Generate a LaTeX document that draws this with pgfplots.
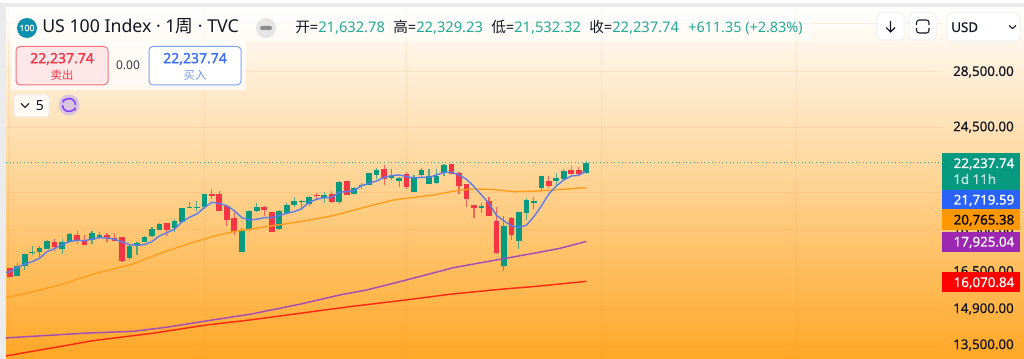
\documentclass[border=0pt]{standalone}
\usepackage{fontspec}
\usepackage{pgfplots}
\usepackage{pgfplotstable}
\usetikzlibrary{arrows.meta}
\pgfplotsset{compat=1.18}
\setmainfont{Noto Sans}
\newfontfamily\cjk{Noto Sans CJK SC}
\newfontfamily\fb[FakeBold=1.4]{Noto Sans}
\newfontfamily\fm[FakeBold=0.5]{Noto Sans}
\definecolor{upc}{HTML}{089981}
\definecolor{dnc}{HTML}{F23645}
\definecolor{bl}{HTML}{5A7DF0}
\definecolor{og}{HTML}{FF9E1B}
\definecolor{pu}{HTML}{A24DB8}
\definecolor{rd}{HTML}{FF2A10}
\definecolor{bot}{RGB}{255,167,38}
\definecolor{txt}{HTML}{131722}
\definecolor{logo}{HTML}{0F8FAE}
\definecolor{hdr}{HTML}{22AB94}
\definecolor{tagb}{HTML}{2962FF}
\definecolor{tago}{HTML}{FF9800}
\definecolor{tagp}{HTML}{9C27B0}
\definecolor{btnb}{HTML}{7DA2F5}
\definecolor{txtb}{HTML}{3B6EF5}
\definecolor{txtbl}{HTML}{6F96F5}
\definecolor{lil}{HTML}{DCC4DE}
\definecolor{vio}{HTML}{7A3DFF}
\pgfplotstableread{
x o h l c
1 16325 16885 16310 16779
2 16779 17307 16580 17307
3 17370 17706 17275 17417
4 17401 17722 17165 17610
5 17577 17999 17561 17950
7 17561 18065 17338 17901
8 17901 18330 17885 18297
11 18015 18464 17819 18330
12 18130 18380 18097 18247
16 17118 17755 17041 17690
17 17738 17901 17275 17868
18 17917 18197 17917 18147
19 18197 18651 18163 18532
20 18515 18873 18497 18804
22 18617 19080 18397 18959
23 18907 19627 18890 19627
24 19645 19971 19627 19681
25 19663 20008 19467 19699
26 19681 20394 19573 20394
31 17417 18600 17401 18497
32 18497 19520 18430 19503
33 19467 19915 19432 19717
36 18549 19538 18497 19503
37 19361 19915 19326 19789
38 19807 20264 19717 20008
39 19953 20063 19538 20008
40 19879 20301 19771 20264
42 20191 20506 19934 20357
44 19971 21132 19879 21093
46 20413 20788 20394 20750
47 20902 21016 20674 20940
48 20921 21600 20902 21600
49 21501 21898 21267 21797
51 21325 21838 21228 21442
52 21151 21364 20788 21325
54 20543 21482 20524 21403
55 21501 21918 21364 21797
56 20978 21858 20959 21442
57 21016 21878 20997 21462
58 21620 22138 21462 22098
63 19627 19915 19396 19753
66 16748 19219 16550 18702
68 17966 19432 17577 19432
69 19396 20209 19011 20099
70 19897 20227 19591 20044
71 20750 21423 20599 21423
73 21151 21600 20921 21325
74 21248 21838 21209 21738
77 21632.78 22329.23 21532.32 22237.74
}\upcandles
\pgfplotstableread{
x o h l c
0 16672 16672 16236 16265
6 17917 18032 17465 17658
9 18247 18447 17819 17950
10 17934 18247 17755 17771
13 18247 18347 17901 18097
14 18097 18330 17950 17966
15 18147 18147 16963 17010
21 18838 18838 18197 18497
27 20394 20693 20136 20283
28 20394 20562 19467 19485
29 19771 19771 18719 18994
30 19098 19467 18263 18397
34 19681 19735 19237 19520
35 19432 19432 18380 18397
41 20376 20487 20081 20320
43 20431 20562 19897 19971
45 21151 21151 20339 20357
50 21878 22118 20921 21248
53 21561 21659 20712 20807
59 22158 22158 21561 21561
60 21620 21699 20413 20864
61 20978 20978 19699 20136
62 19789 19807 19132 19663
64 20026 20264 19219 19237
65 18976 19717 17322 17354
67 19098 19184 17999 18230
72 21151 21462 20750 20883
75 21797 22038 21541 21561
76 21797 21998 21521 21561
}\downcandles
\pgfplotstableread{
x y
-0.5 16475
0 16490
1 16703
2 16839
3 16963
4 17118
5 17433
6 17577
7 17771
8 17917
9 17982
10 17966
11 18032
12 18114
13 18097
14 18032
15 17901
16 17771
17 17738
18 17771
19 17917
20 18197
21 18363
22 18532
23 18907
24 19149
25 19326
26 19663
27 19953
28 19897
29 19771
30 19503
31 19132
32 19011
33 19046
34 19132
35 19132
36 19237
37 19361
38 19449
39 19609
40 19953
41 20118
42 20209
43 20209
44 20506
45 20543
46 20599
47 20883
48 21016
49 21151
50 21364
51 21462
52 21501
53 21403
54 21325
55 21364
56 21364
57 21501
58 21659
59 21659
60 21501
61 21248
62 20826
63 20357
64 19897
65 19255
66 18976
67 18702
68 18634
69 18736
70 19184
71 19753
72 20413
73 20864
74 21209
75 21442
76 21482
77 21719.59
}\blueline
\pgfplotstableread{
x y
-0.5 15370
3.16 15625
7.03 15943
11.18 16400
16.5 16855
20.1 17354
24.1 17835
27.2 18180
29.9 18413
34.3 18668
38.8 18924
43.2 19237
47.7 19717
51.3 20081
56.6 20357
59.7 20599
61.9 20693
64.2 20674
67.3 20543
70 20562
72.6 20636
77 20765.38
}\orangeline
\pgfplotstableread{
x y
-0.5 13766
3.16 13829
9.84 13943
16.5 14018
20.97 14174
26.3 14423
32.1 14687
38.8 15100
44.1 15484
47.7 15697
53 16133
59.3 16687
65.5 17072
70 17354
73.5 17593
77 17925.04
}\purpleline
\pgfplotstableread{
x y
-0.5 13104
5.4 13382
11.2 13666
19.1 13943
26.3 14264
32.1 14460
38.8 14727
45.5 15000
52.1 15242
58.8 15512
65.5 15726
70 15842
77 16070.84
}\redline
\newcommand{\fs}[1]{\fontsize{#1}{#1}\selectfont}
\begin{document}
\begin{tikzpicture}
\useasboundingbox (0,0) rectangle (768pt,269.25pt);
\begin{scope}[x=0.75pt,y=-0.75pt,shift={(0,-359)}]
\fill[white] (0,0) rectangle (1024,359);
\fill[black!8] (0,3) rectangle (1024,8);
\fill[black!8] (0,3) rectangle (6,359);
\shade[top color=white,bottom color=bot] (6,8) rectangle (1024,359);
\end{scope}
\begin{axis}[
  at={(4.5pt,0pt)},anchor=south west,scale only axis,
  width=702pt,height=263.25pt,
  ymode=log,
  xmin=-0.49,xmax=124.5,ymin=12996,ymax=33954,
  xtick={-0.2,26,53,79.06,105.05},xticklabels={},
  ytick={13500,14900,16500,18500,20500,24500,28500,32500},
  yticklabels={{13,500.00},{14,900.00},{16,500.00},{18,500.00},{},{24,500.00},{28,500.00},{}},
  ticklabel pos=right,
  major tick length=0pt,
  axis line style={draw=none},
  grid=major,
  grid style={color=brown!70!orange,opacity=0.11,line width=0.75pt},
  yticklabel style={anchor=east,xshift=54pt,font=\fs{10}\fm,text=txt,inner sep=0pt},
  clip=true,
]
\addplot[draw=none,no marks,error bars/.cd,y dir=plus,y explicit,error mark=none,
  error bar style={draw=upc,line width=0.85pt,opacity=0.7}]
  table[x=x,y=l,y error expr=\thisrow{h}-\thisrow{l}] {\upcandles};
\addplot[draw=none,no marks,error bars/.cd,y dir=plus,y explicit,error mark=none,
  error bar style={draw=dnc,line width=0.85pt,opacity=0.7}]
  table[x=x,y=l,y error expr=\thisrow{h}-\thisrow{l}] {\downcandles};
\addplot[draw=none,no marks,error bars/.cd,y dir=plus,y explicit,error mark=none,
  error bar style={draw=upc,line width=4.3pt}]
  table[x=x,y=o,y error expr=\thisrow{c}-\thisrow{o}] {\upcandles};
\addplot[draw=none,no marks,error bars/.cd,y dir=plus,y explicit,error mark=none,
  error bar style={draw=dnc,line width=4.3pt}]
  table[x=x,y=c,y error expr=\thisrow{o}-\thisrow{c}] {\downcandles};
\addplot[upc,no marks,line width=0.7pt,dotted,opacity=0.8] coordinates {(-0.49,22237.74)(124.5,22237.74)};
\addplot[rd,no marks,line width=1.1pt] table[x=x,y=y] {\redline};
\addplot[pu,no marks,line width=1.1pt] table[x=x,y=y] {\purpleline};
\addplot[og,no marks,line width=1.05pt] table[x=x,y=y] {\orangeline};
\addplot[bl,no marks,line width=1.05pt] table[x=x,y=y] {\blueline};
\end{axis}
\begin{scope}[x=0.75pt,y=-0.75pt,shift={(0,-359)},every node/.style={inner sep=0pt,font=\fs{10}}]
% header washes
\fill[white,opacity=0.55] (8,8) rectangle (812,41);
\fill[white,opacity=0.75] (11,41) rectangle (246,90);
% title
\fill[logo] (27,28) circle (10);
\node[text=white,font=\fs{6.5}\fb] at (27,28) {100};
\node[anchor=base west,text=txt,font=\fs{13.3}] at (42,33) {US 100 Index · 1{\cjk 周} · TVC};
\fill[black!10] (266,28) circle (10);
\fill[black!45,rounded corners=1.5] (260,26) rectangle (272,30);
% OHLC
\node[anchor=base west,text=txt,font=\fs{11}] at (295,33) {{\cjk 开}=\textcolor{hdr}{21,632.78}};
\node[anchor=base west,text=txt,font=\fs{11}] at (393,33) {{\cjk 高}=\textcolor{hdr}{22,329.23}};
\node[anchor=base west,text=txt,font=\fs{11}] at (491,33) {{\cjk 低}=\textcolor{hdr}{21,532.32}};
\node[anchor=base west,text=txt,font=\fs{11}] at (589,33) {{\cjk 收}=\textcolor{hdr}{22,237.74}};
\node[anchor=base west,text=hdr,font=\fs{10.8}] at (688,33) {+611.35 (+2.83\%)};
% buy / sell
\draw[fill=dnc!12,draw=dnc!70,line width=0.75pt,rounded corners=3] (16,46.5) rectangle (108,85);
\node[text=dnc,font=\fs{10.5}\fb] at (62,59) {22,237.74};
\node[text=dnc,font=\fs{8.5}\cjk] at (62,75) {卖出};
\node[text=txt!85,font=\fs{9}] at (128,65) {0.00};
\draw[fill=white,draw=btnb,line width=0.75pt,rounded corners=3] (149,46.5) rectangle (241,85);
\node[text=txtb,font=\fs{10.5}\fb] at (195,59) {22,237.74};
\node[text=txtbl,font=\fs{8.5}\cjk] at (195,75) {买入};
% count box
\draw[fill=white,fill opacity=0.85,draw=black!8,line width=0.75pt,rounded corners=2] (14,95) rectangle (49,117);
\draw[txt,line width=0.8pt] (21,103.5)--(25,107.5)--(29,103.5);
\node[text=txt,font=\fs{10.5}] at (40,106) {5};
\fill[lil] (69,105) circle (10.5);
\draw[vio,line width=1.1pt,-{Stealth[length=3pt]}] (62.5,105) arc[start angle=180,end angle=15,radius=6.5];
\draw[vio,line width=1.1pt,-{Stealth[length=3pt]}] (75.5,105) arc[start angle=0,end angle=-165,radius=6.5];
% top-right buttons
\draw[fill=white,draw=black!6,line width=0.75pt,rounded corners=3] (877,13) rectangle (904,40);
\draw[txt,line width=0.8pt] (890.5,21)--(890.5,32) (886,27.5)--(890.5,32)--(895,27.5);
\draw[fill=white,draw=black!6,line width=0.75pt,rounded corners=3] (909,13) rectangle (936,40);
\draw[txt,line width=0.8pt,rounded corners=2] (916.5,25)--(916.5,20)--(929,20)--(929,25) (916.5,28)--(916.5,33)--(929,33)--(929,28);
\draw[fill=white,draw=black!6,line width=0.75pt,rounded corners=3] (947,13) rectangle (1020,41);
\node[anchor=base west,text=txt,font=\fs{10}\fm] at (951,32) {USD};
\draw[txt,line width=0.8pt] (1009,25.5)--(1012.5,28.5)--(1016,25.5);
% price tags
\fill[upc] (942,153) rectangle (1019.5,190);
\node[anchor=base east,text=white,font=\fs{10}\fm] at (1014.5,168) {22,237.74};
\node[anchor=base west,text=white,opacity=0.7,font=\fs{10}\fm] at (953,184) {1d 11h};
\fill[tagb] (942,190) rectangle (1019.5,209);
\node[anchor=base east,text=white,font=\fs{10}\fm] at (1014.5,204.5) {21,719.59};
\fill[tago] (942,209) rectangle (1019.5,230);
\node[anchor=base east,text=black,font=\fs{10}\fm] at (1014.5,224.5) {20,765.38};
\fill[tagp] (942,232) rectangle (1019.5,252);
\node[anchor=base east,text=white,font=\fs{10}\fm] at (1014.5,246.5) {17,925.04};
\fill[red] (942,272) rectangle (1019.5,292.5);
\node[anchor=base east,text=white,font=\fs{10}\fm] at (1014.5,287) {16,070.84};
\end{scope}
\end{tikzpicture}
\end{document}
